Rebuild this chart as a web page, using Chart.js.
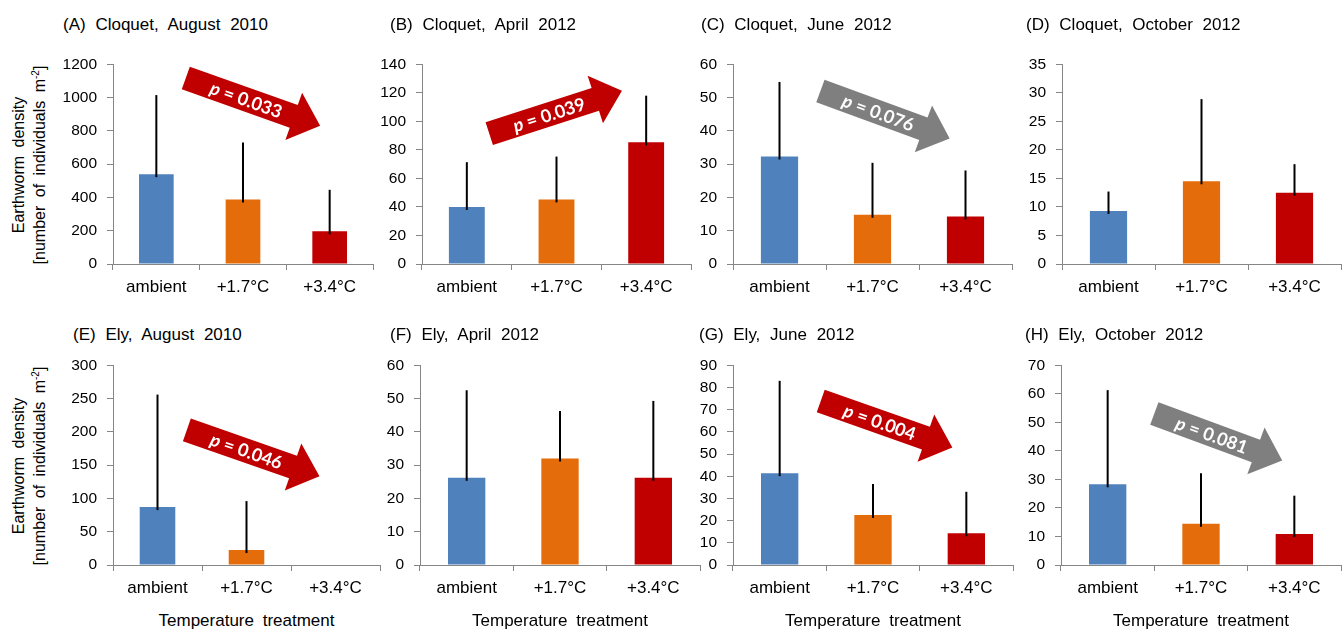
<!DOCTYPE html>
<html>
<head>
<meta charset="utf-8">
<script src="https://cdn.jsdelivr.net/npm/chart.js@4.4.1/dist/chart.umd.min.js"></script>
<style>
  body { margin: 0; background: #fff; width: 1344px; height: 631px; position: relative; overflow: hidden;
         font-family: "Liberation Sans", Arial, sans-serif; color: #000; }
  canvas { position: absolute; }
  .title { position: absolute; font-size: 17px; line-height: 17px; word-spacing: 5px; white-space: nowrap; }
  .ytitle { position: absolute; font-size: 16px; word-spacing: 4px; white-space: nowrap;
            transform: translate(-50%, -50%) rotate(-90deg); }
  .ytitle sup { font-size: 10px; vertical-align: 6px; line-height: 0; }
  .xtitle { position: absolute; font-size: 17px; line-height: 17px; word-spacing: 4px; white-space: nowrap;
            transform: translateX(-50%); }
</style>
</head>
<body>
<script>
const categories = ['ambient', '+1.7°C', '+3.4°C'];
const panelTitles = ['(A) Cloquet, August 2010', '(B) Cloquet, April 2012', '(C) Cloquet, June 2012',
  '(D) Cloquet, October 2012', '(E) Ely, August 2010', '(F) Ely, April 2012', '(G) Ely, June 2012',
  '(H) Ely, October 2012'];
const yMax = [1200, 140, 60, 35, 300, 60, 90, 70];
const yStep = [200, 20, 10, 5, 50, 10, 10, 10];

// mean density and upper standard error per treatment
const densityA = [540, 388, 197],   seA = [475, 342, 249];
const densityB = [40, 45.3, 85.3],  seB = [31.4, 30, 32.7];
const densityC = [32.3, 14.8, 14.3], seC = [22.4, 15.6, 13.8];
const densityD = [9.3, 14.5, 12.5], seD = [3.4, 14.4, 5.0];
const densityE = [87, 22.4, 0],     seE = [169, 73.6, 0];
const densityF = [26.2, 32, 26.2],  seF = [26.3, 14.3, 23.1];
const densityG = [41.4, 22.5, 14.3], seG = [41.6, 14, 18.7];
const densityH = [28.3, 14.5, 10.9], seH = [33, 17.7, 13.4];
const densities = [densityA, densityB, densityC, densityD, densityE, densityF, densityG, densityH];
const errors = [seA, seB, seC, seD, seE, seF, seG, seH];

// trend arrows: tail and tip given as (category index, density)
const trendPanel = [0, 1, 2, 4, 6, 7];
const trendP = ['0.033', '0.039', '0.076', '0.046', '0.004', '0.081'];
const trendSignificant = [true, true, false, true, true, false];
const trendFrom = [[0.34, 1118], [0.25, 91.4], [0.44, 52], [0.33, 203], [0.44, 73.9], [0.5, 53.1]];
const trendTo = [[1.89, 831], [1.73, 121.4], [1.83, 37.7], [1.82, 133.3], [1.85, 53], [1.87, 36.6]];

const barColors = ['#4F81BD', '#E46C0A', '#C00000'];
const axisGrey = '#868686';

// layout of the plot areas
const axisLeft = [113, 422, 733, 1062, 113, 420, 733, 1061];
const plotWidth = [260, 269, 279, 279, 267, 280, 280, 280];
const plotTop = [63, 364];
const plotBottom = [264, 565];
const titleLeft = [63, 390, 701, 1026, 73, 390, 699, 1025];
const titleTop = [16, 326];
const Y_W = 60, X_H = 40, PAD_T = 18, PAD_R = 2;

function drawArrow(ctx, x0, y0, x1, y1, color, p) {
  const dx = x1 - x0, dy = y1 - y0, len = Math.hypot(dx, dy);
  const ux = dx / len, uy = dy / len, nx = -uy, ny = ux;
  const h = 12, H = 25, L = 28;
  const bx = x1 - ux * L, by = y1 - uy * L;
  ctx.beginPath();
  ctx.moveTo(x0 + nx * h, y0 + ny * h);
  ctx.lineTo(bx + nx * h, by + ny * h);
  ctx.lineTo(bx + nx * H, by + ny * H);
  ctx.lineTo(x1, y1);
  ctx.lineTo(bx - nx * H, by - ny * H);
  ctx.lineTo(bx - nx * h, by - ny * h);
  ctx.lineTo(x0 - nx * h, y0 - ny * h);
  ctx.closePath();
  ctx.fillStyle = color;
  ctx.fill();

  ctx.save();
  ctx.translate(x0 + dx * 0.45, y0 + dy * 0.45);
  ctx.rotate(Math.atan2(dy, dx));
  ctx.fillStyle = '#fff';
  ctx.textBaseline = 'middle';
  ctx.textAlign = 'left';
  const f1 = 'italic bold 18px Lato', f2 = 'bold 18px Lato';
  const rest = ' = ' + p;
  ctx.font = f1; const w1 = ctx.measureText('p').width;
  ctx.font = f2; const w2 = ctx.measureText(rest).width;
  const sx = -(w1 + w2) / 2;
  ctx.font = f1; ctx.fillText('p', sx, 1);
  ctx.font = f2; ctx.fillText(rest, sx + w1, 1);
  ctx.restore();
}

const extras = {
  id: 'extras',
  afterDatasetsDraw(chart, args, opts) {
    const ctx = chart.ctx, xs = chart.scales.x, ys = chart.scales.y;
    const k = opts.panel;
    ctx.save();
    ctx.strokeStyle = '#000';
    ctx.lineWidth = 2;
    densities[k].forEach((v, i) => {
      const se = errors[k][i];
      if (!se) return;
      const px = xs.getPixelForValue(i);
      ctx.beginPath();
      ctx.moveTo(px, ys.getPixelForValue(v) + 3);
      ctx.lineTo(px, ys.getPixelForValue(v + se));
      ctx.stroke();
    });
    const a = trendPanel.indexOf(k);
    if (a >= 0) {
      drawArrow(ctx,
        xs.getPixelForValue(trendFrom[a][0]), ys.getPixelForValue(trendFrom[a][1]),
        xs.getPixelForValue(trendTo[a][0]), ys.getPixelForValue(trendTo[a][1]),
        trendSignificant[a] ? '#C00000' : '#7F7F7F', trendP[a]);
    }
    ctx.restore();
  }
};

function addDiv(cls, html, left, top) {
  const d = document.createElement('div');
  d.className = cls;
  d.innerHTML = html;
  d.style.left = left + 'px';
  d.style.top = top + 'px';
  document.body.appendChild(d);
}

for (let k = 0; k < 8; k++) {
  const row = k < 4 ? 0 : 1;
  const canvas = document.createElement('canvas');
  const w = Y_W + plotWidth[k] + PAD_R;
  const hgt = PAD_T + (plotBottom[row] - plotTop[row]) + X_H;
  canvas.width = w; canvas.height = hgt;
  canvas.style.left = (axisLeft[k] - Y_W) + 'px';
  canvas.style.top = (plotTop[row] - PAD_T) + 'px';
  canvas.style.width = w + 'px'; canvas.style.height = hgt + 'px';
  document.body.appendChild(canvas);

  new Chart(canvas, {
    type: 'bar',
    data: {
      labels: categories,
      datasets: [{
        data: densities[k],
        backgroundColor: barColors,
        borderWidth: 0,
        barPercentage: 0.4,
        categoryPercentage: 1
      }]
    },
    options: {
      responsive: false,
      animation: false,
      devicePixelRatio: 1,
      layout: { autoPadding: false, padding: { top: PAD_T, right: PAD_R, left: 0, bottom: 0 } },
      plugins: { legend: { display: false }, tooltip: { enabled: false }, extras: { panel: k } },
      scales: {
        x: {
          offset: true,
          afterFit: s => { s.height = X_H; },
          grid: { offset: true, drawOnChartArea: false, drawTicks: true, tickLength: 6, color: axisGrey },
          border: { display: true, color: axisGrey, width: 1 },
          ticks: { color: '#000', padding: 7, font: { family: 'Liberation Sans', size: 17 } }
        },
        y: {
          min: 0, max: yMax[k],
          afterFit: s => { s.width = Y_W; },
          grid: { drawOnChartArea: false, drawTicks: true, tickLength: 6, color: axisGrey },
          border: { display: true, color: axisGrey, width: 1 },
          ticks: { stepSize: yStep[k], color: '#000', padding: 10, callback: v => String(v),
                   font: { family: 'Liberation Sans', size: 15.5 } }
        }
      }
    },
    plugins: [extras]
  });

  addDiv('title', panelTitles[k], titleLeft[k], titleTop[row]);
  if (row === 1) {
    addDiv('xtitle', 'Temperature treatment', axisLeft[k] + plotWidth[k] / 2, 612);
  }
}

// y axis titles on the left column
[165, 466].forEach(cy => {
  addDiv('ytitle', 'Earthworm density', 19, cy);
  addDiv('ytitle', '[number of individuals m<sup>-2</sup>]', 40, cy);
});
</script>
</body>
</html>
